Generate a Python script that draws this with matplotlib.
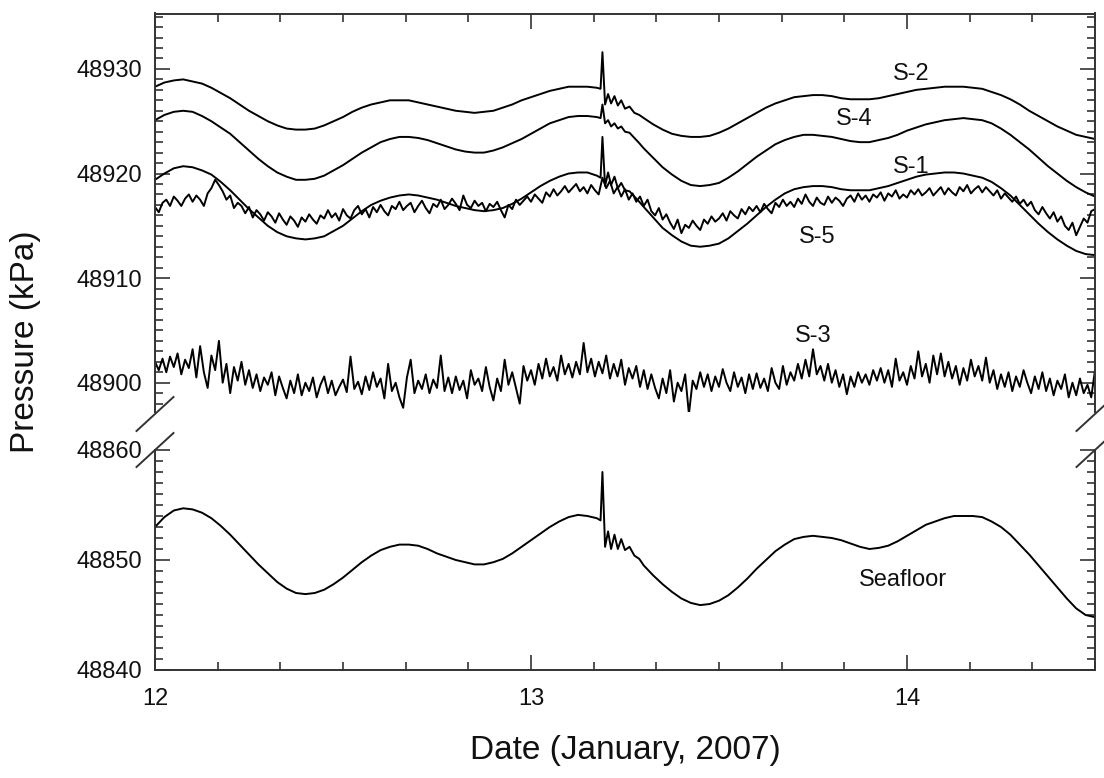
import numpy as np
import matplotlib
matplotlib.use("Agg")
import matplotlib.pyplot as plt
from matplotlib.ticker import MultipleLocator, FixedLocator
from matplotlib.lines import Line2D

plt.rcParams['font.family'] = ['Liberation Sans', 'DejaVu Sans']

# ---------------------------------------------------------------------------
# Pressure records, January 2007 (day of month, kPa)
# Tidal records: 0.025-day samples, denser around the event at 13.19
# ---------------------------------------------------------------------------
t_event = [13.185, 13.190, 13.197, 13.205, 13.213, 13.222,
           13.231, 13.240, 13.250, 13.262, 13.275, 13.288]
t_tide = (list(np.round(np.arange(12.0, 13.18, 0.025), 3)) + t_event
          + list(np.round(np.arange(13.3, 14.51, 0.025), 3)))

seafloor = [
    48853.0, 48853.9, 48854.5, 48854.7, 48854.6, 48854.3, 48853.8, 48853.1, 48852.3, 48851.4,
    48850.5, 48849.6, 48848.8, 48848.0, 48847.4, 48847.0, 48846.9, 48847.0, 48847.3, 48847.8,
    48848.4, 48849.1, 48849.8, 48850.4, 48850.9, 48851.2, 48851.4, 48851.4, 48851.3, 48851.0,
    48850.6, 48850.3, 48850.0, 48849.8, 48849.6, 48849.6, 48849.8, 48850.1, 48850.6, 48851.2,
    48851.8, 48852.4, 48853.0, 48853.5, 48853.9, 48854.1, 48854.0, 48853.8,
    48853.6, 48858.0, 48851.2, 48852.6, 48851.0, 48852.3, 48851.0, 48851.9, 48850.9, 48851.2,
    48850.4, 48850.1,
    48849.5, 48848.6, 48847.8, 48847.1, 48846.5, 48846.1, 48845.9, 48846.0, 48846.3, 48846.8,
    48847.5, 48848.3, 48849.2, 48850.0, 48850.8, 48851.4, 48851.9, 48852.1, 48852.2, 48852.1,
    48852.0, 48851.8, 48851.5, 48851.2, 48851.0, 48851.1, 48851.3, 48851.7, 48852.2, 48852.7,
    48853.2, 48853.5, 48853.8, 48854.0, 48854.0, 48854.0, 48853.9, 48853.5, 48853.0, 48852.3,
    48851.4, 48850.5, 48849.5, 48848.5, 48847.5, 48846.5, 48845.6, 48845.0, 48844.8]

s2 = [
    48928.3, 48928.7, 48928.9, 48929.0, 48928.8, 48928.6, 48928.2, 48927.7, 48927.2, 48926.6,
    48926.0, 48925.5, 48925.0, 48924.6, 48924.3, 48924.2, 48924.2, 48924.3, 48924.6, 48925.0,
    48925.4, 48925.9, 48926.3, 48926.6, 48926.8, 48927.0, 48927.0, 48927.0, 48926.8, 48926.6,
    48926.4, 48926.2, 48926.0, 48925.9, 48925.8, 48925.9, 48926.0, 48926.3, 48926.6, 48927.0,
    48927.3, 48927.6, 48927.9, 48928.1, 48928.3, 48928.3, 48928.3, 48928.2,
    48928.1, 48931.6, 48926.6, 48927.6, 48926.7, 48927.4, 48926.5, 48927.0, 48926.2, 48926.4,
    48925.8, 48925.6,
    48925.3, 48924.7, 48924.2, 48923.8, 48923.6, 48923.5, 48923.5, 48923.6, 48923.9, 48924.3,
    48924.8, 48925.3, 48925.8, 48926.3, 48926.7, 48927.0, 48927.3, 48927.4, 48927.5, 48927.5,
    48927.4, 48927.2, 48927.1, 48927.1, 48927.1, 48927.2, 48927.4, 48927.6, 48927.8, 48928.0,
    48928.1, 48928.2, 48928.3, 48928.3, 48928.3, 48928.2, 48928.1, 48927.8, 48927.5, 48927.1,
    48926.6, 48926.0, 48925.5, 48925.0, 48924.5, 48924.1, 48923.7, 48923.5, 48923.3]

s4 = [
    48925.1, 48925.6, 48925.9, 48926.0, 48925.9, 48925.5, 48925.0, 48924.4, 48923.8, 48923.0,
    48922.2, 48921.4, 48920.7, 48920.1, 48919.7, 48919.4, 48919.4, 48919.5, 48919.8, 48920.3,
    48920.8, 48921.4, 48922.0, 48922.5, 48923.0, 48923.3, 48923.5, 48923.5, 48923.4, 48923.2,
    48922.9, 48922.6, 48922.3, 48922.1, 48922.0, 48922.0, 48922.2, 48922.5, 48922.9, 48923.3,
    48923.8, 48924.3, 48924.8, 48925.1, 48925.4, 48925.5, 48925.5, 48925.4,
    48925.3, 48926.6, 48924.8, 48925.1, 48924.5, 48924.8, 48924.3, 48924.5, 48924.0, 48923.9,
    48923.4, 48922.9,
    48922.4, 48921.5, 48920.6, 48919.9, 48919.3, 48918.9, 48918.8, 48918.9, 48919.1, 48919.6,
    48920.2, 48920.9, 48921.6, 48922.2, 48922.8, 48923.2, 48923.5, 48923.7, 48923.7, 48923.6,
    48923.5, 48923.3, 48923.1, 48923.0, 48923.0, 48923.2, 48923.4, 48923.7, 48924.1, 48924.4,
    48924.7, 48924.9, 48925.1, 48925.2, 48925.3, 48925.2, 48925.1, 48924.8, 48924.3, 48923.7,
    48923.0, 48922.3, 48921.5, 48920.7, 48920.0, 48919.3, 48918.7, 48918.2, 48917.8]

s1 = [
    48919.4, 48920.0, 48920.5, 48920.7, 48920.6, 48920.3, 48919.9, 48919.2, 48918.4, 48917.5,
    48916.6, 48915.8, 48915.0, 48914.4, 48914.0, 48913.8, 48913.7, 48913.8, 48914.0, 48914.5,
    48915.0, 48915.7, 48916.4, 48917.0, 48917.4, 48917.7, 48917.9, 48918.0, 48917.9, 48917.7,
    48917.5, 48917.2, 48916.9, 48916.7, 48916.5, 48916.4, 48916.5, 48916.7, 48917.1, 48917.6,
    48918.2, 48918.8, 48919.3, 48919.7, 48920.0, 48920.1, 48920.1, 48919.8,
    48919.6, 48923.5, 48918.8, 48920.1, 48918.9, 48919.7, 48918.6, 48919.1, 48918.4, 48918.3,
    48917.8, 48917.3,
    48916.8, 48915.8, 48914.8, 48914.1, 48913.5, 48913.1, 48913.0, 48913.1, 48913.3, 48913.8,
    48914.5, 48915.2, 48916.0, 48916.8, 48917.5, 48918.1, 48918.5, 48918.7, 48918.8, 48918.8,
    48918.7, 48918.5, 48918.4, 48918.4, 48918.4, 48918.6, 48918.8, 48919.1, 48919.4, 48919.7,
    48919.9, 48920.0, 48920.1, 48920.1, 48920.0, 48919.8, 48919.6, 48919.2, 48918.6, 48917.9,
    48917.0, 48916.1, 48915.2, 48914.4, 48913.7, 48913.1, 48912.6, 48912.3, 48912.2]

# Sensors S-5 and S-3 sampled every 0.01 day from 12.00 to 14.50
t_fine = np.linspace(12.0, 14.5, 251)

s5 = [
    48916.8, 48916.3, 48917.2, 48917.5, 48916.9, 48917.8, 48917.4, 48916.9, 48917.6, 48918.0,
    48917.3, 48917.9, 48917.5, 48916.9, 48918.1, 48918.6, 48919.4, 48918.9, 48918.3, 48917.5,
    48917.9, 48916.7, 48917.2, 48916.9, 48916.2, 48916.8, 48915.8, 48916.5, 48916.1, 48915.5,
    48916.3, 48915.9, 48915.3, 48916.2, 48915.6, 48915.1, 48915.9, 48915.5, 48914.9, 48915.8,
    48915.4, 48916.1, 48915.6, 48915.2, 48916.0, 48915.7, 48916.5, 48915.8, 48916.2, 48915.5,
    48916.6, 48916.0, 48915.7, 48916.5, 48916.9, 48916.1, 48916.6, 48915.8, 48916.8, 48916.3,
    48917.0, 48916.4, 48916.0, 48916.9, 48916.6, 48917.3, 48916.5, 48916.9, 48917.2, 48916.3,
    48916.9, 48917.4, 48916.7, 48916.2, 48917.1, 48916.8, 48917.5, 48916.6, 48917.0, 48917.6,
    48917.1, 48916.5, 48917.9, 48917.0, 48916.7, 48917.4, 48916.9, 48917.2, 48916.4, 48917.1,
    48916.8, 48917.3, 48916.5, 48915.8, 48917.0, 48916.6, 48917.5, 48917.0, 48917.4, 48917.8,
    48917.3, 48918.0, 48917.6, 48917.2, 48918.2, 48917.8, 48918.5, 48917.9, 48918.3, 48918.8,
    48918.2, 48918.6, 48919.0, 48918.3, 48918.7, 48918.1, 48918.9, 48918.4, 48918.0, 48919.6,
    48918.6, 48919.3, 48918.1, 48918.7, 48917.8, 48918.5, 48917.5, 48918.1, 48917.3, 48917.8,
    48916.9, 48917.5, 48916.4, 48916.0, 48916.7, 48915.6, 48916.1, 48915.3, 48914.7, 48915.6,
    48914.3, 48915.1, 48914.8, 48915.5, 48915.0, 48914.6, 48915.6, 48915.2, 48915.9, 48915.4,
    48915.7, 48916.2, 48915.5, 48916.4, 48916.0, 48915.7, 48916.6, 48916.1, 48916.8, 48916.4,
    48916.9, 48916.3, 48917.1, 48916.6, 48916.2, 48917.2, 48916.8, 48917.5, 48916.9, 48917.3,
    48916.8, 48917.6, 48917.1, 48918.0, 48917.3, 48916.9, 48917.7, 48917.2, 48917.0, 48917.8,
    48917.2, 48917.7, 48917.4, 48916.9, 48917.6, 48917.9, 48917.3, 48918.1, 48917.5, 48917.9,
    48917.3, 48918.0, 48917.7, 48918.2, 48917.4, 48918.1, 48917.8, 48918.4, 48917.6, 48918.0,
    48917.7, 48918.4, 48918.0, 48918.5, 48917.9, 48918.2, 48918.6, 48917.9, 48918.3, 48918.7,
    48918.0, 48918.6, 48918.2, 48917.9, 48918.7, 48918.3, 48918.9, 48918.1, 48918.5, 48918.8,
    48918.2, 48918.7, 48918.3, 48917.9, 48918.4, 48917.6, 48918.1, 48917.7, 48917.3, 48917.8,
    48917.1, 48917.5, 48916.9, 48917.3, 48916.5, 48916.1, 48916.8, 48916.2, 48915.7, 48916.3,
    48915.4, 48915.9, 48915.0, 48914.6, 48915.3, 48914.1, 48914.9, 48915.7, 48915.3, 48916.4,
    48916.6]

s3 = [
    48902.0, 48901.2, 48902.3, 48901.0, 48902.5, 48901.5, 48902.8, 48900.8, 48902.2, 48901.4,
    48903.2, 48900.5, 48903.5, 48901.0, 48899.5, 48902.6, 48901.2, 48904.0, 48900.0, 48901.8,
    48899.0, 48901.5, 48900.2, 48902.0, 48899.8, 48901.2, 48899.5, 48900.8, 48899.2, 48900.5,
    48899.8, 48901.0, 48898.8, 48900.6, 48899.5, 48898.5, 48900.2, 48899.0, 48900.8, 48898.8,
    48900.0, 48899.2, 48900.5, 48898.6, 48899.8, 48900.6, 48899.0, 48900.2, 48898.8, 48899.6,
    48900.3, 48899.1, 48902.5, 48899.4, 48900.1, 48898.9, 48900.6, 48899.3, 48901.0, 48899.6,
    48900.4, 48898.5, 48901.8, 48899.2, 48900.0, 48898.6, 48897.6, 48900.5, 48902.2, 48899.0,
    48900.2, 48899.4, 48900.8, 48899.0, 48900.3, 48899.5, 48902.6, 48899.2, 48900.5, 48899.0,
    48900.6, 48899.3, 48900.2, 48898.5, 48901.2, 48899.8, 48900.4, 48899.2, 48901.5, 48899.6,
    48898.3, 48900.4, 48899.2, 48902.2, 48899.8, 48901.0, 48899.5, 48898.0, 48901.6, 48900.2,
    48901.2, 48899.8, 48901.8, 48900.4, 48902.3, 48900.6, 48901.5, 48900.2, 48902.6, 48900.8,
    48901.8, 48900.5, 48902.0, 48900.8, 48903.8, 48901.0, 48902.3, 48900.6, 48902.0, 48900.9,
    48902.6, 48900.4, 48901.8, 48900.6, 48902.2, 48899.8, 48901.4, 48900.4, 48901.6, 48899.6,
    48901.2, 48899.4, 48900.8, 48899.5, 48898.5, 48900.4, 48899.0, 48901.2, 48898.2, 48900.0,
    48899.2, 48900.8, 48897.0, 48900.2, 48899.4, 48901.0, 48899.6, 48900.8, 48899.2, 48900.6,
    48899.6, 48901.3, 48900.0, 48899.2, 48901.0, 48899.6, 48900.5, 48899.0, 48900.8, 48899.4,
    48900.9, 48899.5, 48900.4, 48899.2, 48901.4, 48900.0, 48899.4, 48901.6, 48899.8, 48901.0,
    48900.2, 48901.8, 48900.4, 48902.2, 48900.6, 48903.2, 48900.8, 48901.6, 48900.2, 48901.8,
    48900.0, 48901.2, 48899.6, 48900.8, 48898.9, 48900.6, 48899.6, 48901.0, 48900.0, 48900.8,
    48899.8, 48901.2, 48900.2, 48901.4, 48900.0, 48901.2, 48899.6, 48902.3, 48900.2, 48901.0,
    48899.8, 48901.6, 48900.4, 48903.0, 48900.6, 48901.8, 48900.0, 48902.6, 48900.8, 48902.8,
    48900.6, 48902.0, 48900.4, 48901.6, 48899.8, 48901.4, 48900.2, 48902.2, 48900.6, 48901.6,
    48900.2, 48902.4, 48900.0, 48901.2, 48899.4, 48900.8, 48899.6, 48901.0, 48899.2, 48900.6,
    48899.6, 48901.2, 48900.0, 48899.0, 48900.6, 48899.4, 48901.0, 48899.2, 48900.4, 48898.8,
    48900.2, 48899.4, 48900.8, 48898.6, 48900.0, 48898.8, 48900.4, 48899.0, 48899.8, 48898.6,
    48901.2]

x_ticks = [12, 13, 14]
x_tick_labels = ["12", "13", "14"]
upper_ticks = [48900, 48910, 48920, 48930]
lower_ticks = [48840, 48850, 48860]

# Curve annotations: (text, day, kPa)
upper_labels = [("S-2", 14.01, 48929.5), ("S-4", 13.86, 48925.2),
                ("S-1", 14.01, 48920.6), ("S-5", 13.76, 48913.9),
                ("S-3", 13.75, 48904.5)]
lower_labels = [("Seafloor", 13.99, 48848.2)]

# ---------------------------------------------------------------------------
W, H = 1104, 778
fig = plt.figure(figsize=(W / 100, H / 100), dpi=100)


def px_box(left, top, right, bottom):
    return [left / W, 1 - bottom / H, (right - left) / W, (bottom - top) / H]


ax_top = fig.add_axes(px_box(155, 13.5, 1095, 412))
ax_bot = fig.add_axes(px_box(155, 450, 1095, 670))

line_kw = dict(color="black", lw=1.4, solid_joinstyle="round")
for series in (s2, s4, s1):
    ax_top.plot(t_tide, series, **line_kw)
ax_top.plot(t_fine, s5, **line_kw)
ax_top.plot(t_fine, s3, **line_kw)
ax_bot.plot(t_tide, seafloor, **line_kw)

ax_top.set_ylim(48897.2, 48935.3)
ax_bot.set_ylim(48840, 48860)

tick_fs = 17
text_c = "#111111"
spine_c = "#333333"
for ax in (ax_top, ax_bot):
    ax.set_xlim(12, 14.5)
    ax.xaxis.set_major_locator(FixedLocator(x_ticks))
    ax.xaxis.set_minor_locator(MultipleLocator(1 / 6))
    ax.yaxis.set_minor_locator(MultipleLocator(1))
    for s in ax.spines.values():
        s.set_linewidth(1.4)
        s.set_color(spine_c)
    ax.tick_params(which="both", direction="in", color=spine_c, width=1.2,
                   left=True, right=True, labelsize=tick_fs, labelcolor=text_c)
    ax.tick_params(which="major", length=11, pad=9)
    ax.tick_params(which="minor", length=6)

ax_top.yaxis.set_major_locator(FixedLocator(upper_ticks))
ax_bot.yaxis.set_major_locator(FixedLocator(lower_ticks))
ax_top.spines["bottom"].set_visible(False)
ax_bot.spines["top"].set_visible(False)
ax_top.tick_params(which="both", top=True, bottom=False, labelbottom=False)
ax_bot.tick_params(which="both", top=False, bottom=True)
ax_bot.set_xticklabels(x_tick_labels)
ax_bot.tick_params(axis="x", which="major", pad=13)

for text, x, y in upper_labels:
    ax_top.text(x, y, text, fontsize=17, ha="center", va="center", color=text_c)
for text, x, y in lower_labels:
    ax_bot.text(x, y, text, fontsize=17, ha="center", va="center", color=text_c)

# Axis-break slashes across both vertical spines
for xc in (155, 1095):
    for yc in (414, 450):
        fig.add_artist(Line2D([(xc - 18.5) / W, (xc + 18.5) / W],
                              [1 - (yc + 17) / H, 1 - (yc - 17) / H],
                              color=spine_c, lw=1.4, transform=fig.transFigure,
                              clip_on=False))

fig.text(26 / W, 1 - 342 / H, "Pressure (kPa)", rotation=90, fontsize=24,
         ha="center", va="center", color=text_c)
fig.text(625 / W, 1 - 750 / H, "Date (January, 2007)", fontsize=24,
         ha="center", va="center", color=text_c)

fig.savefig("out.png", dpi=100)
